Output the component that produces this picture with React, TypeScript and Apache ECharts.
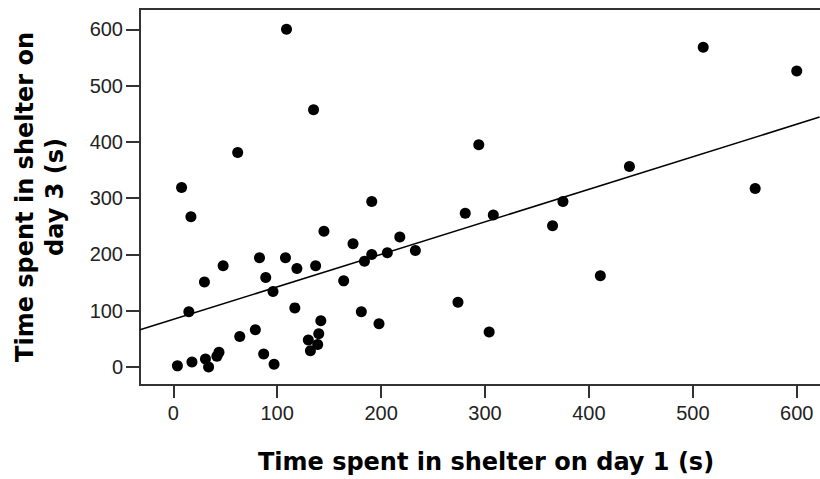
import React, { useEffect, useRef } from "react";
import * as echarts from "echarts";

const day1: number[] = [109, 135, 62, 8, 17, 191, 145, 218, 510, 600, 294, 281, 308, 375, 365, 439, 560, 233, 274, 304, 411, 4, 18, 31, 34, 42, 44, 15, 30, 48, 64, 79, 83, 89, 87, 97, 96, 108, 119, 117, 137, 130, 132, 139, 140, 142, 164, 173, 181, 184, 191, 198, 206];
const day3: number[] = [600, 457, 381, 319, 267, 294, 241, 231, 568, 526, 395, 273, 270, 294, 251, 356, 317, 207, 115, 62, 162, 2, 9, 14, 0, 19, 26, 98, 151, 180, 54, 66, 194, 159, 23, 5, 134, 194, 175, 105, 180, 48, 29, 40, 59, 82, 153, 219, 98, 188, 200, 77, 203];
const fitX: number[] = [-32, 622];
const fitY: number[] = [66, 444];
const tickMin = 0;
const tickMax = 600;
const tickStep = 100;
const xTitle = "Time spent in shelter on day 1 (s)";
const yTitle = "Time spent in shelter on\nday 3 (s)";

// layout
const CW = 830;
const CH = 479;
const GL = 140;
const GT = 9;
const GR = 0;
const GB = 94;
const X_MIN = -32;
const X_MAX = 632;
const Y_MIN = -32;
const Y_MAX = 636;

export default function App() {
  const ref = useRef<HTMLDivElement>(null);
  useEffect(() => {
    if (!ref.current) return;
    const chart = echarts.init(ref.current, undefined, { renderer: "svg" });
    const axisColor = "#333";
    const gw = CW - GL - GR;
    const gh = CH - GT - GB;
    const px = (v: number) => GL + ((v - X_MIN) / (X_MAX - X_MIN)) * gw;
    const py = (v: number) => GT + gh - ((v - Y_MIN) / (Y_MAX - Y_MIN)) * gh;
    const labelStyle = { color: "#222", fontSize: 20, fontFamily: "Liberation Sans" };
    const hidden = (gridIndex: number) => ({
      type: "value",
      gridIndex,
      min: 0,
      max: 1,
      show: false,
      splitLine: { show: false },
      axisLine: { show: false, onZero: false },
      axisTick: { show: false },
      axisLabel: { show: false },
    });
    chart.setOption({
      animation: false,
      backgroundColor: "#fff",
      grid: [
        { left: GL, top: GT, right: GR, bottom: GB, show: true, borderColor: axisColor, borderWidth: 2 },
        { left: px(tickMin), right: CW - px(tickMax), top: GT, bottom: GB, show: false },
        { left: GL, right: GR, top: py(tickMax), bottom: CH - py(tickMin), show: false },
      ],
      xAxis: [
        {
          type: "value",
          gridIndex: 0,
          min: X_MIN,
          max: X_MAX,
          splitLine: { show: false },
          axisLine: { show: false, onZero: false },
          axisTick: { show: false },
          axisLabel: { show: false },
        },
        {
          type: "value",
          gridIndex: 1,
          position: "bottom",
          min: tickMin,
          max: tickMax,
          interval: tickStep,
          splitLine: { show: false },
          axisLine: { show: false, onZero: false },
          axisTick: { show: true, length: 13, lineStyle: { color: axisColor, width: 2 } },
          axisLabel: { margin: 18, ...labelStyle },
        },
        hidden(2),
      ],
      yAxis: [
        {
          type: "value",
          gridIndex: 0,
          min: Y_MIN,
          max: Y_MAX,
          splitLine: { show: false },
          axisLine: { show: false, onZero: false },
          axisTick: { show: false },
          axisLabel: { show: false },
        },
        hidden(1),
        {
          type: "value",
          gridIndex: 2,
          position: "left",
          min: tickMin,
          max: tickMax,
          interval: tickStep,
          splitLine: { show: false },
          axisLine: { show: false, onZero: false },
          axisTick: { show: true, length: 14, lineStyle: { color: axisColor, width: 2 } },
          axisLabel: { margin: 17, ...labelStyle },
        },
      ],
      graphic: [
        {
          type: "text",
          x: 486,
          y: 462,
          style: {
            text: xTitle,
            fill: "#000",
            font: "bold 24px 'DejaVu Sans'",
            align: "center",
            verticalAlign: "middle",
          },
        },
        {
          type: "text",
          x: 40,
          y: 197,
          rotation: Math.PI / 2,
          style: {
            text: yTitle,
            fill: "#000",
            font: "bold 24px 'DejaVu Sans'",
            lineHeight: 30,
            align: "center",
            verticalAlign: "middle",
          },
        },
      ],
      series: [
        {
          type: "line",
          xAxisIndex: 0,
          yAxisIndex: 0,
          data: fitX.map((x, i) => [x, fitY[i]]),
          symbol: "none",
          lineStyle: { color: "#000", width: 1.5 },
          silent: true,
          z: 2,
        },
        {
          type: "scatter",
          xAxisIndex: 0,
          yAxisIndex: 0,
          data: day1.map((x, i) => [x, day3[i]]),
          symbol: "circle",
          symbolSize: 11,
          itemStyle: { color: "#000", opacity: 1 },
          z: 3,
        },
      ],
    });
    return () => chart.dispose();
  }, []);
  return (
    <div style={{ position: "fixed", left: 0, top: 0, width: 820, height: 479, overflow: "hidden", background: "#fff" }}>
      <div ref={ref} style={{ width: CW, height: CH }} />
    </div>
  );
}
